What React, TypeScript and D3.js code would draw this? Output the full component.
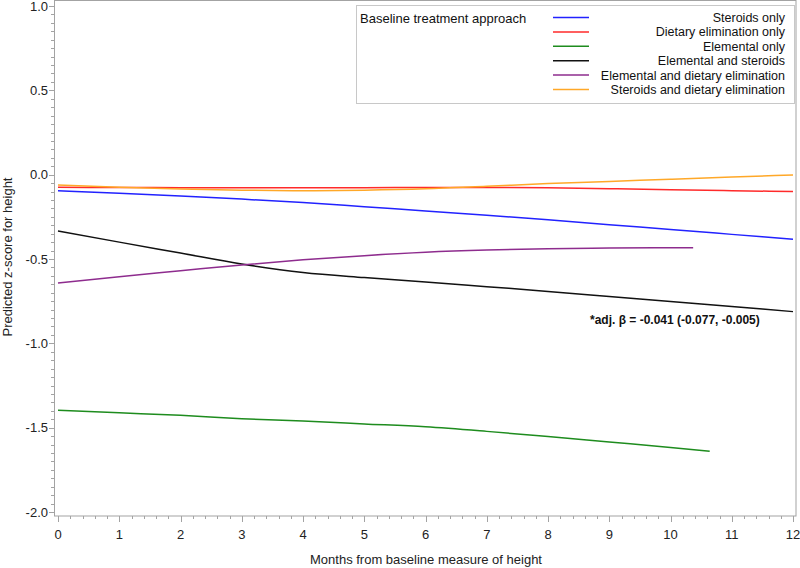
import React, { useEffect, useRef } from "react";
import * as d3 from "d3";

// months on the x axis
const months = [0, 1, 2, 3, 4, 5, 6, 7, 8, 9, 10, 11, 12];

// predicted z-score for height
const steroidsOnly = [-0.095, -0.11, -0.127, -0.145, -0.165, -0.19, -0.215, -0.24, -0.268, -0.297, -0.325, -0.354, -0.383];
const dietaryOnly = [-0.075, -0.076, -0.077, -0.077, -0.077, -0.077, -0.076, -0.076, -0.078, -0.083, -0.089, -0.095, -0.1];
const elementalOnlyMonths = [0, 1, 2, 3, 4, 5, 6, 7, 8, 9, 10, 10.64];
const elementalOnly = [-1.397, -1.412, -1.427, -1.447, -1.461, -1.478, -1.495, -1.522, -1.553, -1.585, -1.617, -1.64];
const elementalSteroids = [-0.334, -0.4, -0.465, -0.53, -0.58, -0.61, -0.636, -0.664, -0.692, -0.722, -0.752, -0.782, -0.812];
const elementalDietaryMonths = [0, 1, 2, 3, 4, 5, 6, 7, 8, 9, 10, 10.37];
const elementalDietary = [-0.642, -0.605, -0.57, -0.535, -0.505, -0.48, -0.46, -0.447, -0.439, -0.435, -0.433, -0.433];
const steroidsDietary = [-0.062, -0.075, -0.085, -0.092, -0.095, -0.092, -0.084, -0.069, -0.053, -0.04, -0.027, -0.014, -0.002];

const seriesNames = [
  "Steroids only",
  "Dietary elimination only",
  "Elemental only",
  "Elemental and steroids",
  "Elemental and dietary elimination",
  "Steroids and dietary elimination",
];
const seriesColors = ["#2222ff", "#ff2a2a", "#1e8c1e", "#111111", "#8e2c8e", "#ffa828"];

const yTicks = [-2.0, -1.5, -1.0, -0.5, 0.0, 0.5, 1.0];
const xTicks = [0, 1, 2, 3, 4, 5, 6, 7, 8, 9, 10, 11, 12];

const annotation = "*adj. \u03b2 = -0.041 (-0.077, -0.005)";

const Chart = () => {
  const svgRef = useRef<SVGSVGElement>(null);

  useEffect(() => {
    const w = 800;
    const h = 568;
    const font = "'Liberation Sans', Arial, sans-serif";
    const frameColor = "#a3a3a3";

    const svg = d3.select(svgRef.current).attr("width", w).attr("height", h);
    svg.selectAll("*").remove();

    const x = d3.scaleLinear().domain([0, 12]).range([58, 793]);
    const y = d3.scaleLinear().domain([-2, 1]).range([512, 6]);

    // frame
    svg.append("rect")
      .attr("x", 54.5).attr("y", 0.5)
      .attr("width", 796 - 54.5).attr("height", 515.5)
      .attr("fill", "none")
      .attr("stroke", frameColor);

    // y axis ticks
    const yMinor = d3.range(-2, 1.0001, 0.05);
    svg.append("g").selectAll("line")
      .data(yMinor)
      .join("line")
      .attr("x1", 54).attr("x2", d => (yTicks.some(t => Math.abs(t - d) < 1e-6) ? 49 : 51))
      .attr("y1", d => Math.round(y(d)) + 0.5).attr("y2", d => Math.round(y(d)) + 0.5)
      .attr("stroke", frameColor);

    svg.append("g").selectAll("text")
      .data(yTicks)
      .join("text")
      .attr("x", 48)
      .attr("y", d => y(d) + 4.5)
      .attr("text-anchor", "end")
      .attr("font-family", font)
      .attr("font-size", 13)
      .attr("fill", "#222")
      .text(d => d.toFixed(1));

    // x axis ticks
    const xMinor = d3.range(0, 12.0001, 0.2);
    svg.append("g").selectAll("line")
      .data(xMinor)
      .join("line")
      .attr("y1", 516).attr("y2", d => (Math.abs(d - Math.round(d)) < 1e-6 ? 522 : 519))
      .attr("x1", d => Math.round(x(d)) + 0.5).attr("x2", d => Math.round(x(d)) + 0.5)
      .attr("stroke", frameColor);

    svg.append("g").selectAll("text")
      .data(xTicks)
      .join("text")
      .attr("x", d => x(d))
      .attr("y", 539)
      .attr("text-anchor", "middle")
      .attr("font-family", font)
      .attr("font-size", 13)
      .attr("fill", "#222")
      .text(d => String(d));

    // axis titles
    svg.append("text")
      .attr("x", 426).attr("y", 564)
      .attr("text-anchor", "middle")
      .attr("font-family", font).attr("font-size", 13).attr("fill", "#222")
      .text("Months from baseline measure of height");

    svg.append("text")
      .attr("transform", "translate(12, 257) rotate(-90)")
      .attr("text-anchor", "middle")
      .attr("font-family", font).attr("font-size", 13).attr("fill", "#222")
      .text("Predicted z-score for height");

    // series
    const allSeries = [
      { months: months, values: steroidsOnly },
      { months: months, values: dietaryOnly },
      { months: elementalOnlyMonths, values: elementalOnly },
      { months: months, values: elementalSteroids },
      { months: elementalDietaryMonths, values: elementalDietary },
      { months: months, values: steroidsDietary },
    ];

    const line = d3.line<[number, number]>()
      .x(d => x(d[0]))
      .y(d => y(d[1]))
      .curve(d3.curveMonotoneX);

    svg.append("g").selectAll("path")
      .data(allSeries)
      .join("path")
      .attr("d", s => line(s.months.map((m, i) => [m, s.values[i]] as [number, number])))
      .attr("fill", "none")
      .attr("stroke", (s, i) => seriesColors[i])
      .attr("stroke-width", 1.5);

    // annotation
    svg.append("text")
      .attr("x", 590).attr("y", 324)
      .attr("font-family", font).attr("font-size", 12).attr("font-weight", "bold")
      .attr("fill", "#111")
      .text(annotation);

    // legend
    const legend = svg.append("g");
    legend.append("rect")
      .attr("x", 356.5).attr("y", 5.5)
      .attr("width", 438).attr("height", 98)
      .attr("fill", "#fff")
      .attr("stroke", "#c8c8c8");

    legend.append("text")
      .attr("x", 360).attr("y", 23)
      .attr("font-family", font).attr("font-size", 13).attr("fill", "#111")
      .text("Baseline treatment approach");

    const rows = legend.selectAll("g.row")
      .data(seriesNames)
      .join("g")
      .classed("row", true)
      .attr("transform", (d, i) => `translate(0, ${17.5 + i * 14.4})`);

    rows.append("line")
      .attr("x1", 553).attr("x2", 589)
      .attr("y1", 0).attr("y2", 0)
      .attr("stroke", (d, i) => seriesColors[i])
      .attr("stroke-width", 1.5);

    rows.append("text")
      .attr("x", 785).attr("y", 4.5)
      .attr("text-anchor", "end")
      .attr("font-family", font).attr("font-size", 12.5).attr("fill", "#111")
      .text(d => d);
  }, []);

  return <svg ref={svgRef} style={{ position: "absolute", left: 0, top: 0 }} />;
};

export default function App() {
  return <Chart />;
}
